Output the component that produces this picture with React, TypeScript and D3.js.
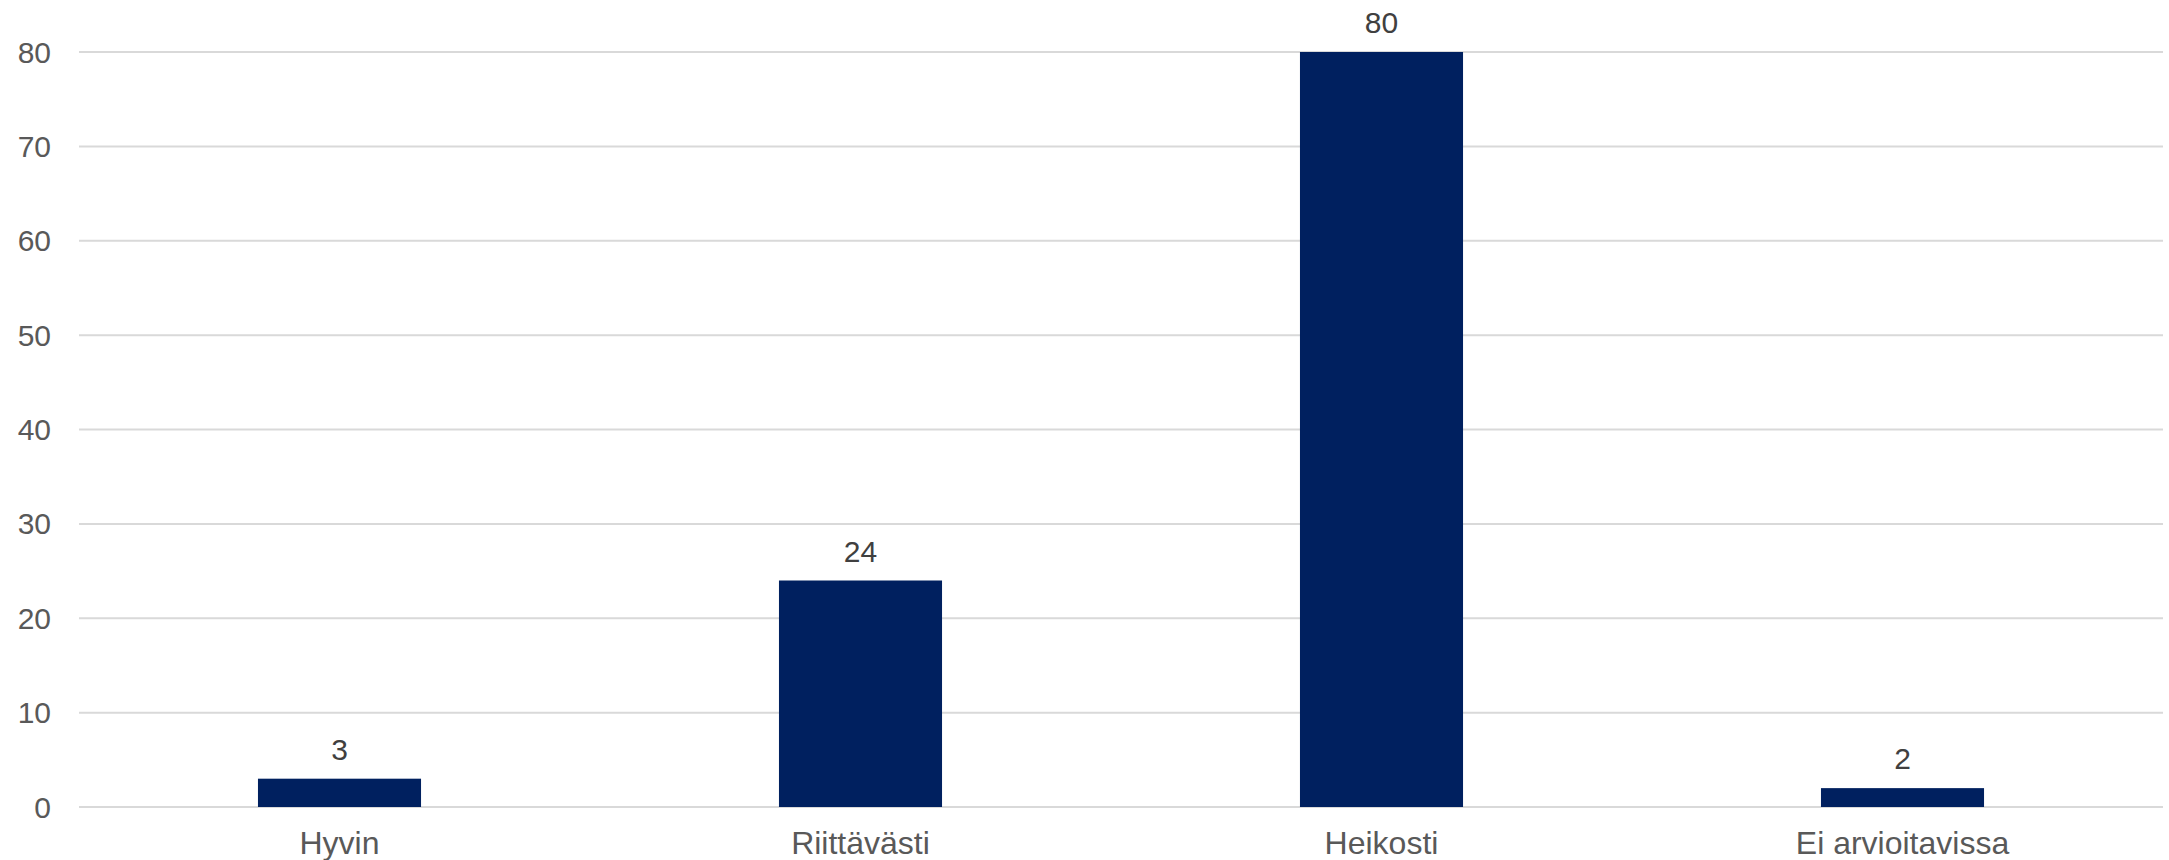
import React from "react";
import * as d3 from "d3";

const categories: string[] = ["Hyvin", "Riittävästi", "Heikosti", "Ei arvioitavissa"];
const values: number[] = [3, 24, 80, 2];
const yTicks: number[] = [0, 10, 20, 30, 40, 50, 60, 70, 80];

const W = 2169;
const H = 860;
const margin = { left: 79, right: 6, top: 52, bottom: 53 };

export default function App() {
  const x = d3
    .scaleBand<string>()
    .domain(categories)
    .range([margin.left, W - margin.right])
    .paddingInner(0.687)
    .paddingOuter(0.3435);
  const y = d3.scaleLinear().domain([0, 80]).range([H - margin.bottom, margin.top]);
  const font = "'Liberation Sans', Arial, sans-serif";
  return (
    <svg
      width={W}
      height={H}
      style={{ position: "absolute", left: 0, top: 0, background: "#fff" }}
      fontFamily={font}
    >
      {yTicks.map((t) => (
        <g key={t}>
          <line
            x1={margin.left}
            x2={W - margin.right}
            y1={y(t)}
            y2={y(t)}
            stroke="#d9d9d9"
            strokeWidth={2}
          />
          <text
            x={51}
            y={y(t)}
            textAnchor="end"
            dominantBaseline="central"
            fontSize={30}
            fill="#595959"
          >
            {t}
          </text>
        </g>
      ))}
      {categories.map((c, i) => (
        <g key={c}>
          <rect
            x={x(c)}
            y={y(values[i])}
            width={x.bandwidth()}
            height={y(0) - y(values[i])}
            fill="#00205f"
          />
          <text
            x={(x(c) as number) + x.bandwidth() / 2}
            y={y(values[i]) - 19}
            textAnchor="middle"
            fontSize={30}
            fill="#404040"
          >
            {values[i]}
          </text>
          <text
            x={(x(c) as number) + x.bandwidth() / 2}
            y={854}
            textAnchor="middle"
            fontSize={32}
            fill="#595959"
          >
            {c}
          </text>
        </g>
      ))}
    </svg>
  );
}
